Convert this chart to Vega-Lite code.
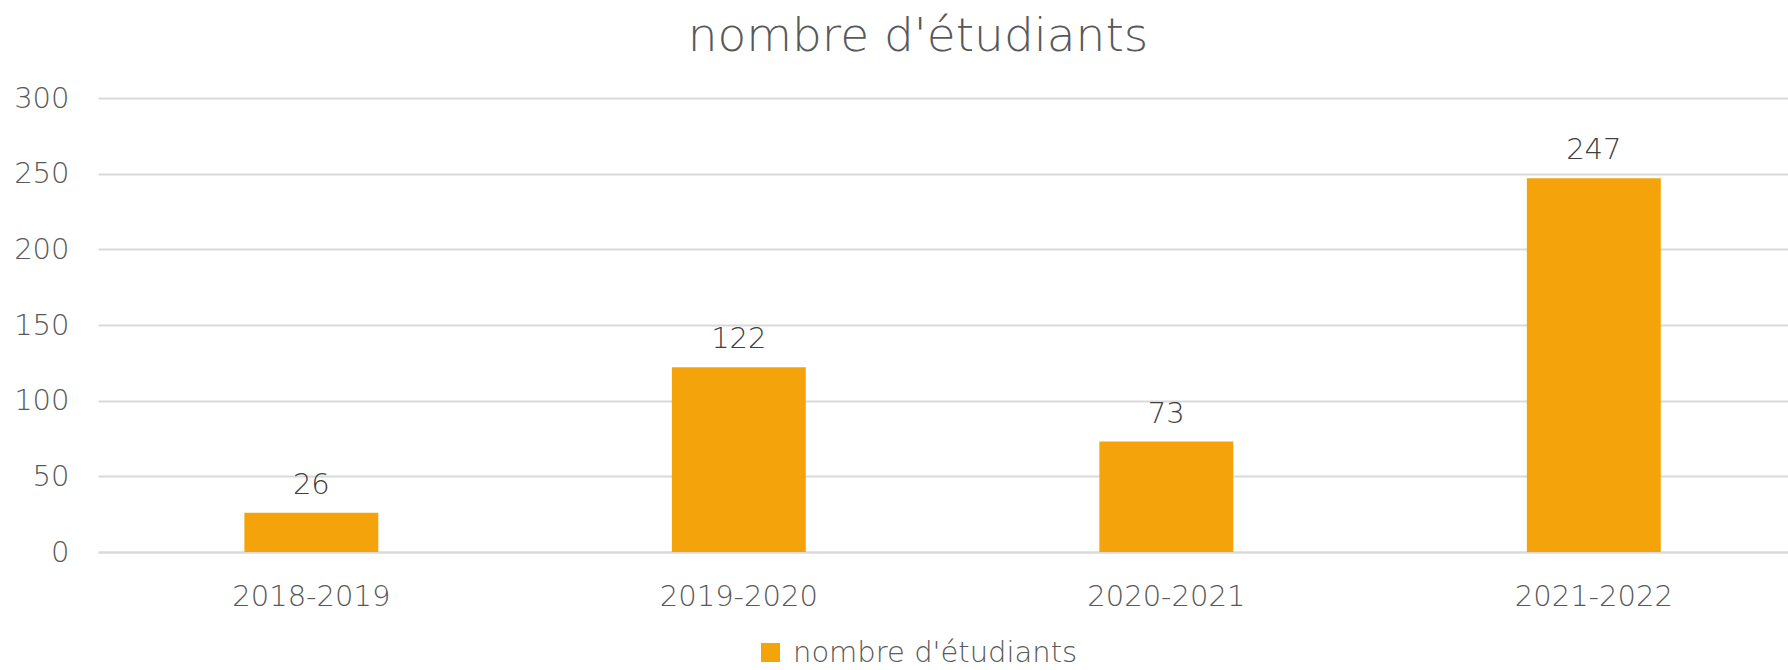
{
  "$schema": "https://vega.github.io/schema/vega-lite/v6.json",
  "autosize": {"type": "none"},
  "width": 1690,
  "height": 454,
  "padding": {"left": 98, "top": 98, "right": 0, "bottom": 118},
  "background": "white",
  "view": {"stroke": null},
  "title": {
    "text": "nombre d'étudiants",
    "anchor": "middle",
    "frame": "group",
    "dx": -25,
    "offset": -14,
    "baseline": "alphabetic",
    "font": "DejaVu Sans",
    "fontSize": 47,
    "fontWeight": 300,
    "color": "#595959"
  },
  "data": {
    "values": [
      {"annee": "2018-2019", "valeur": 26, "serie": "nombre d'étudiants"},
      {"annee": "2019-2020", "valeur": 122, "serie": "nombre d'étudiants"},
      {"annee": "2020-2021", "valeur": 73, "serie": "nombre d'étudiants"},
      {"annee": "2021-2022", "valeur": 247, "serie": "nombre d'étudiants"}
    ]
  },
  "encoding": {
    "x": {
      "field": "annee",
      "type": "nominal",
      "sort": null,
      "scale": {"paddingInner": 0.6867, "paddingOuter": 0.32, "align": 0.535},
      "axis": {
        "title": null,
        "labelAngle": 0,
        "labelFont": "DejaVu Sans",
        "labelFontWeight": 300,
        "labelFontSize": 29,
        "labelColor": "#595959",
        "labelPadding": 30,
        "ticks": false,
        "tickSize": 0,
        "domain": true,
        "domainColor": "#D9D9D9",
        "domainWidth": 2,
        "grid": false
      }
    },
    "y": {
      "field": "valeur",
      "type": "quantitative",
      "scale": {"domain": [0, 300], "nice": false},
      "axis": {
        "title": null,
        "values": [0, 50, 100, 150, 200, 250, 300],
        "labelFont": "DejaVu Sans",
        "labelFontWeight": 300,
        "labelFontSize": 29,
        "labelColor": "#595959",
        "labelPadding": 29,
        "ticks": false,
        "tickSize": 0,
        "domain": false,
        "grid": true,
        "gridColor": "#D9D9D9",
        "gridWidth": 2
      }
    }
  },
  "layer": [
    {
      "mark": {"type": "bar"},
      "encoding": {
        "color": {
          "field": "serie",
          "type": "nominal",
          "scale": {"range": ["#F4A40A"]},
          "legend": {
            "title": null,
            "orient": "none",
            "legendX": 658,
            "legendY": 540,
            "direction": "horizontal",
            "symbolType": "square",
            "symbolSize": 360,
            "symbolStrokeWidth": 0,
            "labelFont": "DejaVu Sans",
            "labelFontWeight": 300,
            "labelFontSize": 29,
            "labelLimit": 0,
            "labelColor": "#595959",
            "labelOffset": 8
          }
        }
      }
    },
    {
      "mark": {
        "type": "text",
        "dy": -19,
        "baseline": "alphabetic",
        "font": "DejaVu Sans",
        "fontWeight": 300,
        "fontSize": 29,
        "color": "#404040"
      },
      "encoding": {
        "text": {"field": "valeur", "type": "quantitative"}
      }
    }
  ]
}
